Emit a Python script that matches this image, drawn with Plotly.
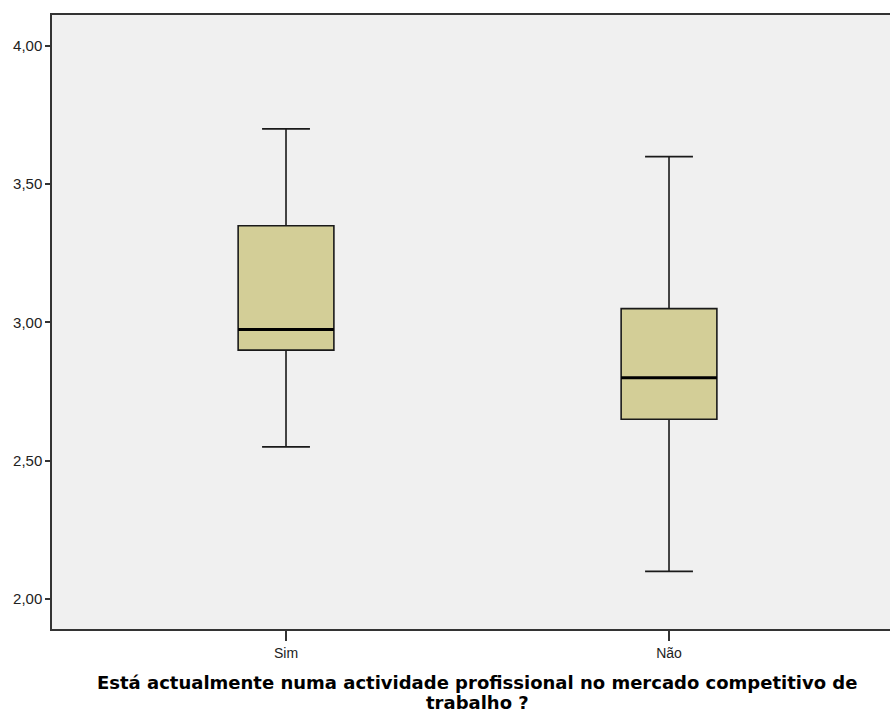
import plotly.graph_objects as go

categories = ["Sim", "Não"]
lower_whisker = [2.55, 2.10]
q1 = [2.90, 2.65]
median = [2.975, 2.80]
q3 = [3.35, 3.05]
upper_whisker = [3.70, 3.60]
y_ticks = [2.0, 2.5, 3.0, 3.5, 4.0]
title_lines = ["Está actualmente numa actividade profissional no mercado competitivo de",
               "trabalho ?"]

positions = list(range(len(categories)))
box_width = 0.25

fig = go.Figure()
fig.add_trace(go.Box(
    x=positions, q1=q1, median=median, q3=q3,
    lowerfence=lower_whisker, upperfence=upper_whisker,
    width=box_width, whiskerwidth=0.5,
    fillcolor="#d3ce97", line=dict(color="#1a1a1a", width=1.6),
    boxpoints=False, showlegend=False, hoverinfo="skip",
))
for p, m in zip(positions, median):
    fig.add_trace(go.Scatter(
        x=[p - box_width / 2, p + box_width / 2], y=[m, m],
        mode="lines", line=dict(color="#000000", width=3),
        showlegend=False, hoverinfo="skip",
    ))

fig.update_layout(
    width=890, height=717,
    margin=dict(l=52, r=0, t=15, b=88),
    paper_bgcolor="white", plot_bgcolor="#f0f0f0",
    separators=",.",
    font=dict(family="Arial, Liberation Sans, sans-serif", color="#222222"),
)
fig.update_xaxes(
    range=[-0.611, 1.577], tickvals=positions, ticktext=categories,
    showgrid=False, zeroline=False,
    showline=True, linecolor="#333333", linewidth=1.5, mirror=True,
    ticks="outside", ticklen=10, tickcolor="#333333", tickwidth=1.5,
    tickfont=dict(size=14, color="#222222"),
)
fig.update_yaxes(
    range=[1.8915, 4.112], tickvals=y_ticks, tickformat=".2f",
    showgrid=False, zeroline=False,
    showline=True, linecolor="#333333", linewidth=1.5,
    ticks="outside", ticklen=5, tickcolor="#333333", tickwidth=1.5,
    tickfont=dict(size=15, color="#222222"),
)
for i, (line, shift) in enumerate(zip(title_lines, [-41, -61])):
    fig.add_annotation(
        xref="paper", yref="paper", x=0.5077, y=0, yanchor="top", yshift=shift,
        text="<b>" + line + "</b>", showarrow=False, align="center",
        font=dict(size=18, color="#000000", family="DejaVu Sans, sans-serif"),
    )
fig.write_html(
    "out.html",
    config={"displayModeBar": False},
    post_script="document.body.style.margin='0';document.body.style.overflow='hidden';",
)
